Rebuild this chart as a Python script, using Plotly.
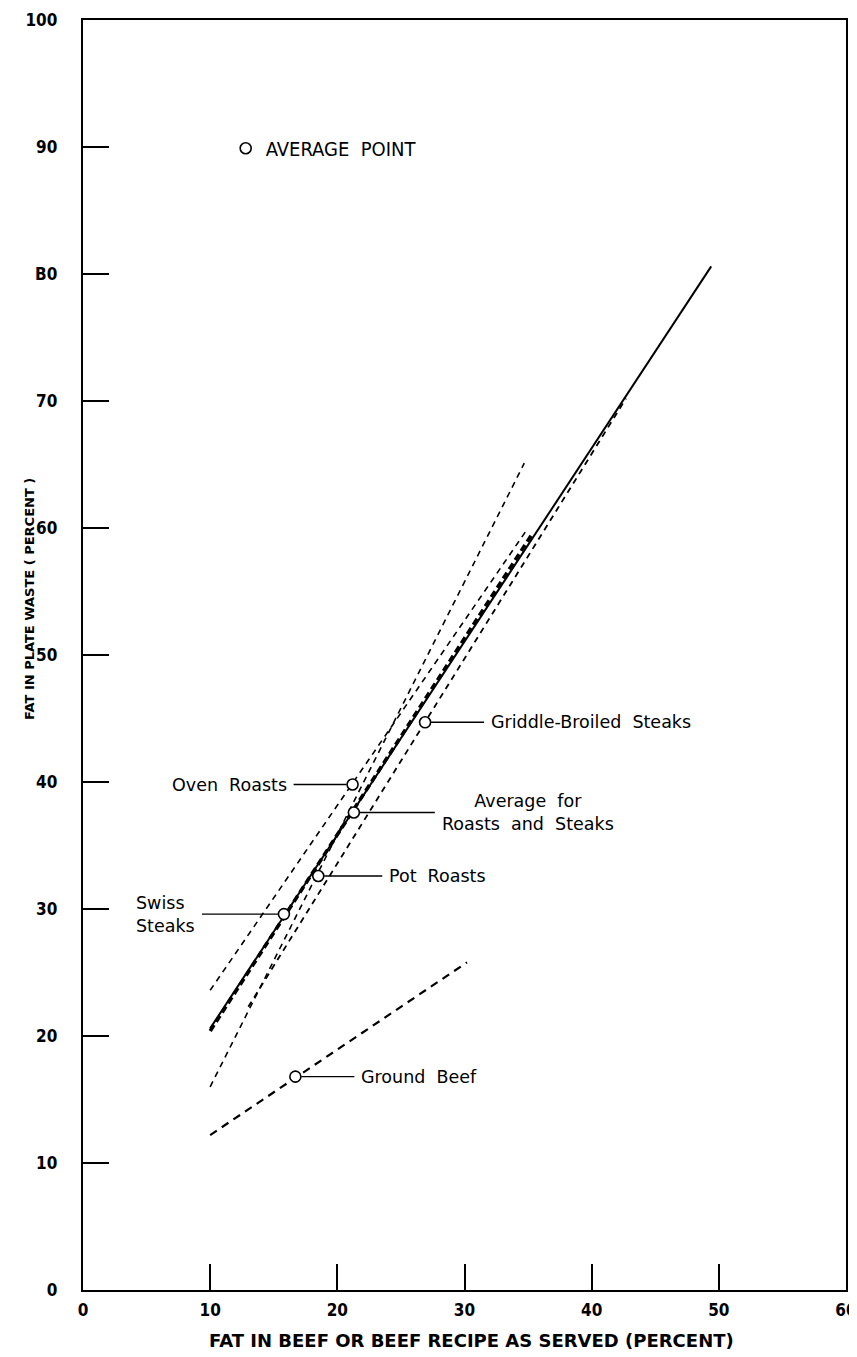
import plotly.graph_objects as go

# ---------------- data ----------------
categories = ["Average for Roasts and Steaks", "Oven Roasts", "Pot Roasts",
              "Swiss Steaks", "Griddle-Broiled Steaks", "Ground Beef"]
label_texts = ["Average  for<br>Roasts  and  Steaks", "Oven  Roasts", "Pot  Roasts",
               "Swiss<br>Steaks", "Griddle-Broiled  Steaks", "Ground  Beef"]
# average points (fat as served %, fat in plate waste %)
avg_x = [21.3, 21.2, 18.5, 15.8, 26.9, 16.7]
avg_y = [37.6, 39.8, 32.6, 29.6, 44.7, 16.8]
# regression line end points
line_x_start = [10.0, 10.0, 10.0, 10.0, 13.0, 10.0]
line_y_start = [20.6, 23.6, 16.0, 20.4, 22.3, 12.2]
line_x_end = [49.4, 35.0, 34.7, 35.3, 42.7, 30.2]
line_y_end = [80.6, 60.0, 65.1, 59.5, 70.2, 25.8]

x_ticks = [0, 10, 20, 30, 40, 50, 60]
y_ticks = [0, 10, 20, 30, 40, 50, 60, 70, 80, 90, 100]
y_tick_text = ["0", "10", "20", "30", "40", "50", "60", "70", "B0", "90", "100"]

x_title = "FAT IN BEEF OR BEEF RECIPE AS SERVED (PERCENT)"
y_title = "FAT IN PLATE WASTE ( PERCENT )"
legend_label = "AVERAGE  POINT"

# ---------------- styles ----------------
line_dash = ["solid", "6px,5px", "6px,5px", "7px,4px", "6px,5px", "8px,6px"]
line_width = [2.0, 1.6, 1.6, 3.6, 1.8, 2.2]
label_ax = [81, -59, 64, -82, 59, 59]
label_xanchor = ["left", "right", "left", "right", "left", "left"]
label_align = ["center", "right", "left", "left", "left", "left"]

FONT = "DejaVu Sans Condensed, Liberation Sans Narrow, Roboto Condensed, DejaVu Sans, sans-serif"
LFONT = "DejaVu Sans, Liberation Sans, sans-serif"
TFONT = "DejaVu Sans, Liberation Sans, sans-serif"

fig = go.Figure()

for i, c in enumerate(categories):
    fig.add_trace(go.Scatter(
        x=[line_x_start[i], line_x_end[i]], y=[line_y_start[i], line_y_end[i]],
        mode="lines", name=c, showlegend=False, hoverinfo="skip",
        line=dict(color="black", width=line_width[i], dash=line_dash[i]),
    ))

fig.add_trace(go.Scatter(
    x=avg_x, y=avg_y, mode="markers", name=legend_label, showlegend=True,
    text=categories,
    marker=dict(symbol="circle", size=11, color="white",
                line=dict(color="black", width=1.6)),
))

for i, c in enumerate(categories):
    fig.add_annotation(
        x=avg_x[i], y=avg_y[i], text=label_texts[i],
        showarrow=True, arrowhead=0, arrowwidth=1.4, arrowcolor="black",
        ax=label_ax[i], ay=0, axref="pixel", ayref="pixel",
        xanchor=label_xanchor[i], yanchor="middle", align=label_align[i],
        standoff=6, borderpad=6,
        font=dict(family=LFONT, size=17.5, color="black"),
    )

# axis titles
fig.add_annotation(x=0.509, y=-0.0394, xref="paper", yref="paper",
                   text=x_title, showarrow=False, xanchor="center", yanchor="middle",
                   font=dict(family=TFONT, size=18, color="black", weight="bold"))
fig.add_annotation(x=-0.071, y=0.544, xref="paper", yref="paper",
                   text=y_title, showarrow=False, xanchor="center", yanchor="middle",
                   textangle=-90,
                   font=dict(family=TFONT, size=13, color="black", weight="bold"))

axis_common = dict(
    showline=True, linecolor="black", linewidth=2.4, mirror=True,
    ticks="inside", ticklen=26, tickwidth=2, tickcolor="black",
    showgrid=False, zeroline=False, automargin=False,
    tickfont=dict(family=FONT, size=17, color="black", weight="bold"),
)

fig.update_xaxes(range=[0, 60], tickvals=x_ticks, ticklabelstandoff=3, **axis_common)
fig.update_yaxes(range=[0, 100], tickvals=y_ticks, ticktext=y_tick_text,
                 ticklabelstandoff=20, **axis_common)

# the page body adds an 8px margin, so the figure is sized to fit the window
fig.update_layout(
    width=849, height=1349,
    margin=dict(l=75, r=11, t=12, b=67),
    paper_bgcolor="white", plot_bgcolor="white",
    showlegend=True,
    legend=dict(x=0.187, y=0.899, xanchor="left", yanchor="middle",
                bgcolor="rgba(0,0,0,0)", borderwidth=0,
                font=dict(family=FONT, size=20, color="black")),
)

fig.write_html("out.html")
